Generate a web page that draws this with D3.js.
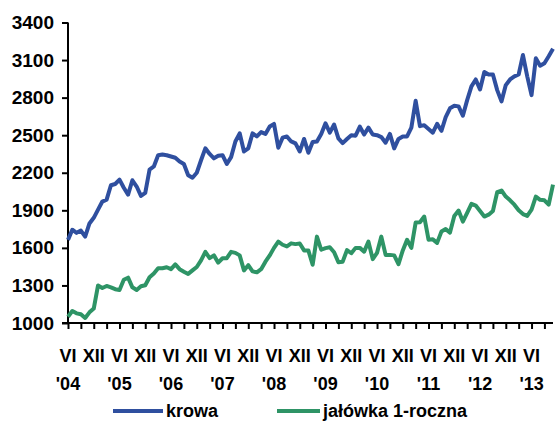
<!DOCTYPE html>
<html><head><meta charset="utf-8">
<script src="https://cdn.jsdelivr.net/npm/d3@7"></script>
<style>body{margin:0;background:#fff}svg{display:block}text{font-family:"Liberation Sans",Arial,sans-serif;font-weight:bold;fill:#000}</style>
</head><body>
<script>
const startYear = 2004, startMonth = 6;
const krowa = [1664,1745,1720,1738,1690,1795,1840,1905,1970,1985,2100,2110,2145,2080,2025,2140,2090,2015,2040,2225,
2250,2340,2345,2340,2330,2320,2290,2270,2180,2160,2200,2300,2395,2350,2315,2335,2340,2270,2325,2450,
2515,2370,2395,2515,2490,2525,2510,2570,2590,2400,2480,2490,2450,2435,2370,2470,2360,2445,2450,2510,
2595,2520,2585,2475,2437,2470,2500,2496,2568,2505,2560,2505,2500,2485,2440,2510,2395,2470,2490,2490,
2560,2775,2572,2580,2550,2520,2590,2535,2645,2715,2735,2730,2655,2780,2890,2945,2865,3005,2985,2985,
2860,2770,2900,2945,2970,2985,3140,2970,2820,3115,3055,3075,3130,3190];
const jalowka = [1050,1096,1077,1070,1040,1085,1115,1300,1280,1296,1285,1270,1264,1345,1362,1285,1264,1294,1302,1365,
1395,1437,1437,1445,1430,1468,1430,1410,1392,1420,1447,1500,1568,1518,1540,1482,1517,1518,1568,1560,
1540,1420,1462,1412,1405,1430,1490,1540,1600,1650,1625,1612,1636,1630,1635,1580,1580,1465,1690,1585,
1598,1605,1565,1485,1490,1582,1557,1600,1600,1570,1650,1510,1560,1690,1544,1544,1540,1470,1580,1665,
1600,1802,1805,1850,1665,1668,1640,1730,1750,1722,1855,1898,1810,1880,1952,1938,1895,1850,1865,1895,
2045,2058,2010,1980,1945,1900,1870,1855,1905,2010,1984,1980,1945,2105];
const yTicks = [1000,1300,1600,1900,2200,2500,2800,3100,3400];
const monthLabels = ["VI","XII"];
const yearLabels = ["'04","'05","'06","'07","'08","'09","'10","'11","'12","'13"];
const seriesNames = ["krowa","jałówka 1-roczna"];
const colors = ["#2f4f9f","#2e9466"];

const W=555,H=428;
const svg=d3.select("body").append("svg").attr("width",W).attr("height",H);
const n=krowa.length;
const x=d3.scaleLinear().domain([0,n-1]).range([68,553]);
const y=d3.scaleLinear().domain([1000,3400]).range([323,22.5]);

// y axis
const ya=svg.append("g").attr("transform","translate(68,0)")
  .call(d3.axisLeft(y).tickValues(yTicks).tickSize(6).tickPadding(8).tickFormat(d3.format("d")));
ya.select(".domain").attr("stroke","#000").attr("stroke-width",2).attr("d","M0,22.5V323");
ya.selectAll(".tick line").attr("stroke","#000").attr("stroke-width",2);
ya.selectAll(".tick text").style("font-size","19px").attr("font-family",null);

// x axis
const qTicks=d3.range(0,n,3);
const xa=svg.append("g").attr("transform","translate(0,323)")
  .call(d3.axisBottom(x).tickValues(qTicks).tickSize(6).tickFormat(""));
xa.select(".domain").attr("stroke","#000").attr("stroke-width",2).attr("d","M62,0H553");
xa.selectAll(".tick line").attr("stroke","#000").attr("stroke-width",2);

const halfYears=d3.range(0,n,6);
svg.append("g").selectAll("text").data(halfYears).join("text")
  .attr("x",d=>x(d)).attr("y",362).attr("text-anchor","middle").style("font-size","18px")
  .text((d,i)=>monthLabels[i%2]);
svg.append("g").selectAll("text").data(yearLabels).join("text")
  .attr("x",(d,i)=>x(i*12)).attr("y",390).attr("text-anchor","middle").style("font-size","18px")
  .text(d=>d);

const line=d3.line().x((d,i)=>x(i)).y(d=>y(d));
[jalowka,krowa].forEach((s,k)=>{
  svg.append("path").datum(s).attr("d",line).attr("fill","none")
    .attr("stroke",colors[1-k]).attr("stroke-width",4).attr("stroke-linejoin","round");
});

// legend
const leg=[{x1:113,x2:163,tx:166},{x1:277,x2:320,tx:323}];
leg.forEach((l,i)=>{
  svg.append("line").attr("x1",l.x1).attr("x2",l.x2).attr("y1",411).attr("y2",411)
    .attr("stroke",colors[i]).attr("stroke-width",4);
  svg.append("text").attr("x",l.tx).attr("y",417).style("font-size","18px").text(seriesNames[i]);
});
</script>
</body></html>
